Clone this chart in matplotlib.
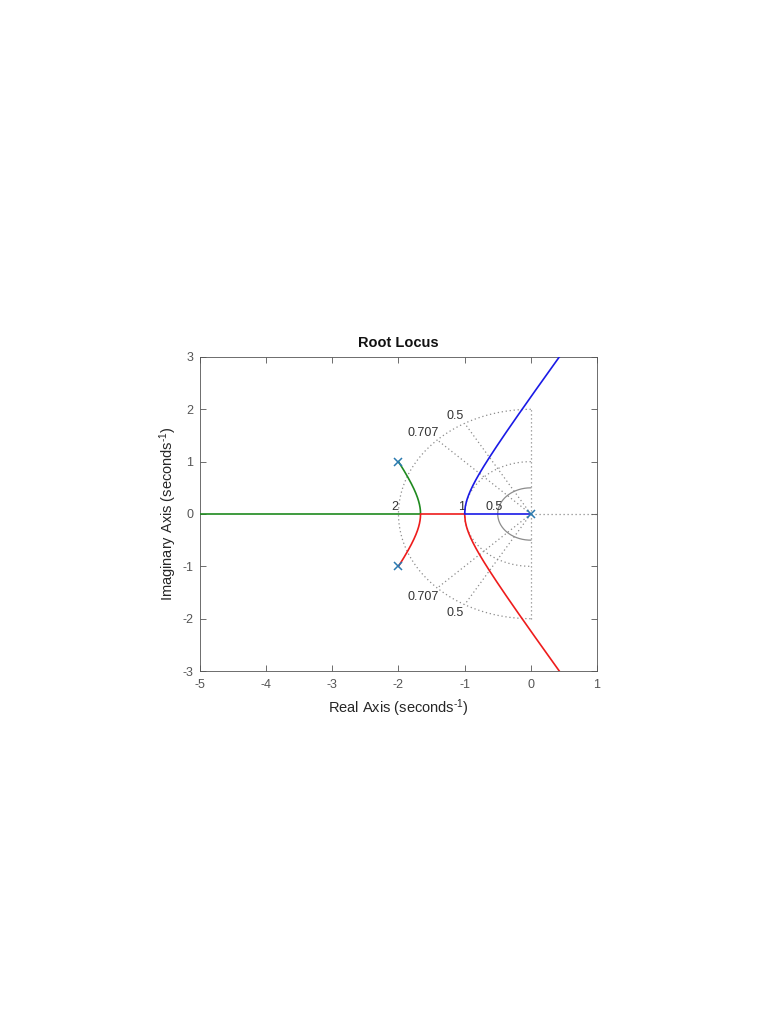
import numpy as np
import matplotlib
matplotlib.use("Agg")
import matplotlib.pyplot as plt

plt.rcParams["font.family"] = ["Liberation Sans", "DejaVu Sans"]
plt.rcParams["axes.unicode_minus"] = False
plt.rcParams["mathtext.default"] = "regular"

# open-loop G(s) = 1 / (s (s^2 + 4 s + 5)); closed loop: s^3 + 4 s^2 + 5 s + K
den = [1.0, 4.0, 5.0]
open_poles = [0.0 + 0.0j, -2.0 + 1.0j, -2.0 - 1.0j]
K_in = 50.0 / 27.0     # break-in at s = -5/3
K_out = 2.0            # breakaway at s = -1
gains = np.unique(np.concatenate([
    np.linspace(0.0, K_in, 600),
    np.linspace(K_in, K_out, 400),
    np.linspace(K_out, 60.0, 3000),
]))

# sgrid settings
zetas = [0.5, 0.707]
wns = [0.5, 1.0, 2.0]
zeta_labels = ["0.5", "0.707"]
wn_labels = ["0.5", "1", "2"]

blue, red, green = [], [], []
for K in gains:
    r = np.roots(den + [K])
    if K <= K_in:
        i = np.argmax(r.real)
        rest = np.delete(r, i)
        rest = rest[np.argsort(rest.imag)]
        blue.append(r[i].real + 0j)
        green.append(rest[1])
        red.append(rest[0])
    elif K < K_out:
        rr = np.sort(r.real)
        green.append(rr[0] + 0j)
        red.append(rr[1] + 0j)
        blue.append(rr[2] + 0j)
    else:
        i = np.argmin(r.real)
        rest = np.delete(r, i)
        rest = rest[np.argsort(rest.imag)]
        green.append(r[i].real + 0j)
        blue.append(rest[1])
        red.append(rest[0])
blue, red, green = map(np.array, (blue, red, green))

fig = plt.figure(figsize=(7.68, 10.24), dpi=100)
ax = fig.add_axes([0.2604, 0.3447, 0.5169, 0.3067])

grid_c = "#8c8c8c"
dots = (0, (1, 2.2))
# damping-ratio rays
for z in zetas:
    ang = np.arccos(z)
    for sgn in (1, -1):
        ax.plot([0, -2 * np.cos(ang)], [0, sgn * 2 * np.sin(ang)],
                ls=dots, color=grid_c, lw=0.9, zorder=1)
ax.plot([0, 0], [-2, 2], ls=dots, color=grid_c, lw=0.9, zorder=1)
ax.plot([0, 1], [0, 0], ls=dots, color=grid_c, lw=0.9, zorder=1)
# natural-frequency half circles
th = np.linspace(np.pi / 2, 3 * np.pi / 2, 300)
for w in wns:
    ls = "-" if w == 0.5 else dots
    ax.plot(w * np.cos(th), w * np.sin(th), ls=ls, color=grid_c, lw=0.9, zorder=1)

# grid labels
lab_c = "#333333"
fs = 9
ax.text(-1.15, 1.87, zeta_labels[0], ha="center", va="center", fontsize=fs, color=lab_c)
ax.text(-1.63, 1.55, zeta_labels[1], ha="center", va="center", fontsize=fs, color=lab_c)
ax.text(-1.63, -1.58, zeta_labels[1], ha="center", va="center", fontsize=fs, color=lab_c)
ax.text(-1.15, -1.89, zeta_labels[0], ha="center", va="center", fontsize=fs, color=lab_c)
for w, lab in zip(wns, wn_labels):
    ax.text(-w - 0.05, 0.13, lab, ha="center", va="center", fontsize=fs, color=lab_c)

# locus branches
ax.plot(green.real, green.imag, color="#1f8a1f", lw=1.2, zorder=3)
ax.plot(red.real, red.imag, color="#ee1c1c", lw=1.2, zorder=3)
ax.plot(blue.real, blue.imag, color="#1a1ae6", lw=1.2, zorder=4)
ax.plot([p.real for p in open_poles], [p.imag for p in open_poles], "x",
        color="#2a7ab0", ms=6, mew=1.1, zorder=5)

ax.set_xlim(-5, 1)
ax.set_ylim(-3, 3)
ax.set_xticks(range(-5, 2))
ax.set_yticks(range(-3, 4))
ax.tick_params(direction="in", top=True, right=True, length=4, width=0.6,
               colors="#555555", labelsize=9, labelcolor="#555555")
ax.tick_params(axis="x", pad=6)
ax.tick_params(axis="y", pad=5)
for s in ax.spines.values():
    s.set_color("#555555")
    s.set_linewidth(0.6)

ax.set_xlabel("Real Axis (seconds$^{\u2010 1}$)", fontsize=10.5, color="#262626", labelpad=4)
ax.set_ylabel("Imaginary Axis (seconds$^{\u2010 1}$)", fontsize=10.5, color="#262626", labelpad=2)
ax.set_title("Root Locus", fontsize=10.5, fontweight="bold", color="#111111", pad=7)

fig.savefig("out.png", dpi=100, facecolor="white")
